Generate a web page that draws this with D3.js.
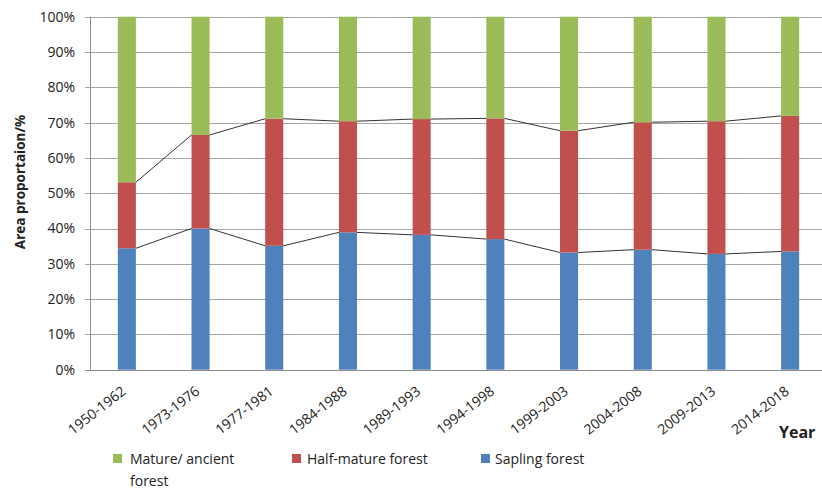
<!DOCTYPE html>
<html><head><meta charset="utf-8">
<script src="https://cdn.jsdelivr.net/npm/d3@7"></script>
<style>body{margin:0;background:#fff}svg{display:block}text{font-family:"Open Sans",sans-serif;fill:#222}</style>
</head><body><svg id="c" width="822" height="490"></svg>
<script>
const categories = ["1950-1962","1973-1976","1977-1981","1984-1988","1989-1993","1994-1998","1999-2003","2004-2008","2009-2013","2014-2018"];
const sapling = [34.4, 40.0, 35.1, 38.9, 38.2, 37.0, 33.2, 34.0, 32.8, 33.5];
const halfMature = [18.7, 26.5, 36.0, 31.5, 32.8, 34.2, 34.5, 36.1, 37.6, 38.4];
const mature = [46.9, 33.5, 28.9, 29.6, 29.0, 28.8, 32.3, 29.9, 29.6, 28.1];
const seriesNames = ["Sapling forest","Half-mature forest","Mature/ ancient forest"];
const colors = ["#4f81bd","#c0504d","#9bbb59"];
const yTicks = [0,10,20,30,40,50,60,70,80,90,100];

const svg = d3.select("#c");
const x = d3.scaleBand().domain(categories).range([90, 827]).paddingInner(0.755).paddingOuter(0.3775);
const y = d3.scaleLinear().domain([0,100]).range([369.7, 16.7]);

const rows = categories.map((c,i)=>({cat:c, s:sapling[i], h:halfMature[i], m:mature[i]}));
const stack = d3.stack().keys(["s","h","m"])(rows);

// gridlines
svg.append("g").selectAll("line").data(yTicks).join("line")
  .attr("x1",85).attr("x2",822).attr("y1",d=>Math.round(y(d))+0.5).attr("y2",d=>Math.round(y(d))+0.5)
  .attr("stroke",d=>d===0?"#8c8c8c":"#a6a6a6").attr("stroke-width",1);
// y axis line
svg.append("line").attr("x1",90.5).attr("x2",90.5).attr("y1",y(100)).attr("y2",y(0)).attr("stroke","#8c8c8c");

// tick labels
svg.append("g").selectAll("text").data(yTicks).join("text")
  .attr("x",75).attr("y",d=>y(d)).attr("dy","0.35em").attr("text-anchor","end")
  .attr("font-size",14).text(d=>d+"%");

// bars
stack.forEach((layer,k)=>{
  svg.append("g").selectAll("rect").data(layer).join("rect")
    .attr("x",d=>x(d.data.cat)).attr("width",x.bandwidth())
    .attr("y",d=>y(d[1])).attr("height",d=>y(d[0])-y(d[1]))
    .attr("fill",colors[k]);
});

// series lines (top of sapling and top of half-mature)
[0,1].forEach(k=>{
  const layer = stack[k];
  for(let i=0;i<layer.length-1;i++){
    svg.append("line")
      .attr("x1",x(categories[i])+x.bandwidth()).attr("y1",y(layer[i][1]))
      .attr("x2",x(categories[i+1])).attr("y2",y(layer[i+1][1]))
      .attr("stroke","#333").attr("stroke-width",1);
  }
});

// x labels
svg.append("g").selectAll("text").data(categories).join("text")
  .attr("transform",d=>`translate(${x(d)+x.bandwidth()/2},${393}) rotate(-38)`)
  .attr("text-anchor","end").attr("font-size",14).text(d=>d);

// axis titles
svg.append("text").attr("transform","translate(25,182) rotate(-90)").attr("text-anchor","middle")
  .attr("font-size",13.5).attr("font-weight","bold").text("Area proportaion/%");
svg.append("text").attr("x",779).attr("y",438).attr("font-size",16).attr("font-weight","bold").text("Year");

// legend
const legend = [
  {name:"Mature/ ancient", name2:"forest", c:colors[2], sx:113, tx:130},
  {name:"Half-mature forest", c:colors[1], sx:292, tx:307},
  {name:"Sapling forest", c:colors[0], sx:481, tx:495}
];
const lg = svg.append("g");
legend.forEach(l=>{
  lg.append("rect").attr("x",l.sx).attr("y",454).attr("width",l.tx-l.sx-3>10?9:12).attr("height",9).attr("fill",l.c);
  lg.append("text").attr("x",l.tx).attr("y",464).attr("font-size",14).text(l.name);
  if(l.name2) lg.append("text").attr("x",l.tx).attr("y",486).attr("font-size",14).text(l.name2);
});
</script></body></html>
